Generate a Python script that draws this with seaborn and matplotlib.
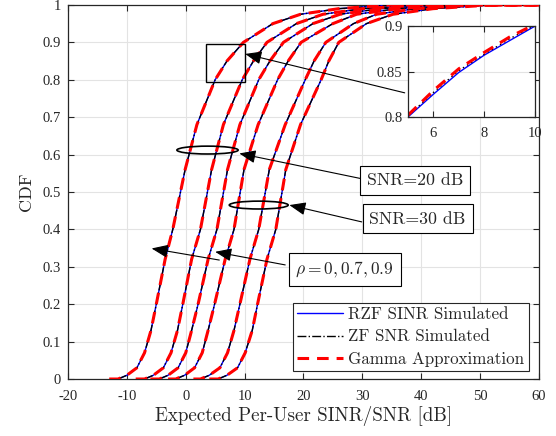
import numpy as np
import pandas as pd
import seaborn as sns
import matplotlib.pyplot as plt
from matplotlib.patches import Ellipse, Rectangle
from matplotlib.lines import Line2D

# CDF levels at which the curve positions were read (dB)
cdf_levels = [0, 0.01, 0.03, 0.07, 0.13, 0.2, 0.32, 0.4, 0.56, 0.68,
              0.8, 0.85, 0.9, 0.95, 0.975, 0.99, 1.0, 1.0]

curve_1 = [-11.5, -10.0, -8.3, -7.0, -5.9, -5.0, -3.5, -2.2, -0.1, 1.9, 5.0, 7.0, 9.8, 14.8, 19.5, 26, 35, 60]
curve_2 = [-7.0, -5.5, -3.8, -2.5, -1.4, -0.5, 1.0, 2.5, 4.4, 6.4, 9.6, 11.5, 13.8, 18.8, 23.3, 30, 40, 60]
curve_3 = [-4.5, -3.0, -1.3, 0.0, 1.0, 2.1, 3.8, 5.3, 7.1, 9.2, 12.4, 14.3, 16.6, 21.6, 26.2, 33, 43, 60]
curve_4 = [-1.7, -0.2, 1.5, 2.8, 3.8, 4.9, 6.7, 8.2, 9.9, 12.3, 15.6, 17.4, 19.6, 25.0, 29.0, 36, 46, 60]
curve_5 = [2.5, 4.0, 5.8, 7.1, 8.2, 9.2, 10.9, 12.4, 14.2, 16.9, 20.3, 21.8, 23.8, 28.5, 32.4, 39, 49, 60]
curve_6 = [5.5, 7.0, 8.8, 10.1, 11.3, 12.2, 13.8, 15.3, 17.0, 19.5, 23.0, 24.3, 26.0, 30.7, 35.2, 42, 52, 60]
curves = [curve_1, curve_2, curve_3, curve_4, curve_5, curve_6]

# where the Gamma approximation leaves zero
gamma_start = [-13.0, -8.5, -6.0, -3.0, 1.3, 4.0]

# zoomed inset readings
inset_x = [5, 6, 7, 8, 9, 10]
inset_rzf = [0.800, 0.825, 0.849, 0.868, 0.884, 0.900]
inset_zf = [0.801, 0.827, 0.851, 0.869, 0.886, 0.901]
inset_gamma = [0.802, 0.829, 0.853, 0.871, 0.888, 0.902]

sns.set_style("ticks")
plt.rcParams.update({
    'font.family': 'serif',
    'font.serif': ['cmr10', 'DejaVu Serif'],
    'mathtext.fontset': 'cm',
    'axes.unicode_minus': False,
    'axes.formatter.use_mathtext': True,
})

EDGE = '#262626'
GRID = '#e3e3e3'
TICKFONT = {'family': 'Liberation Serif', 'size': 10.5}
RED_DASH = (0, (3.8, 2.6))

rows = []
for i, xs in enumerate(curves):
    for x, c in zip(xs, cdf_levels):
        rows.append({'curve': i, 'x': x, 'cdf': c})
df = pd.DataFrame(rows)

fig = plt.figure(figsize=(5.56, 4.36), dpi=100)
ax = fig.add_axes([0.1223, 0.1307, 0.847, 0.858])

for i in range(len(curves)):
    d = df[df['curve'] == i]
    sns.lineplot(x=d['x'], y=d['cdf'], ax=ax, color='blue', lw=1.0,
                 sort=False, estimator=None, zorder=3)
for i in range(len(curves)):
    d = df[df['curve'] == i]
    sns.lineplot(x=d['x'], y=d['cdf'], ax=ax, color='black', lw=1.0,
                 linestyle='-.', sort=False, estimator=None, zorder=4)
for i in range(len(curves)):
    d = df[df['curve'] == i]
    gx = [gamma_start[i]] + list(d['x'])
    gy = [0.0] + list(d['cdf'])
    sns.lineplot(x=gx, y=gy, ax=ax, color='red', lw=2.2,
                 linestyle=RED_DASH, sort=False, estimator=None, zorder=5)

ax.set_xlim(-20, 60)
ax.set_ylim(0, 1)
ax.set_xticks(np.arange(-20, 61, 10))
ax.set_yticks(np.arange(0, 1.01, 0.1))
ax.set_xticklabels([f'{v:g}' for v in np.arange(-20, 61, 10)], fontdict=TICKFONT)
ax.set_yticklabels([f'{v:g}' for v in np.round(np.arange(0, 1.01, 0.1), 1)], fontdict=TICKFONT)
ax.grid(True, color=GRID, lw=0.8, zorder=0)
ax.tick_params(direction='in', length=4, width=0.8, top=True, right=True,
               colors=EDGE, labelcolor=EDGE)
ax.tick_params(axis='x', pad=8)
ax.tick_params(axis='y', pad=5)
for s in ax.spines.values():
    s.set_color(EDGE)
    s.set_linewidth(0.9)
ax.set_xlabel('Expected Per-User SINR/SNR [dB]', fontsize=13.7, color=EDGE, labelpad=2)
ax.set_ylabel('CDF', fontsize=13, color=EDGE, labelpad=6)

# zoom box and annotations
ax.add_patch(Rectangle((3.5, 0.795), 6.5, 0.101, fill=False, ec='k', lw=1.0, zorder=6))
ax.add_patch(Ellipse((3.7, 0.612), 10.4, 0.021, fill=False, ec='k', lw=1.2, zorder=6))
ax.add_patch(Ellipse((12.4, 0.465), 10.0, 0.021, fill=False, ec='k', lw=1.2, zorder=6))

arrow = dict(arrowstyle='-|>,head_length=1.0,head_width=0.4', color='k', lw=0.8,
             shrinkA=0, shrinkB=0)
ax.annotate('', xy=(10.1, 0.869), xytext=(37.2, 0.765), arrowprops=arrow, zorder=7)
ax.annotate('', xy=(9.1, 0.603), xytext=(29.7, 0.536), arrowprops=arrow, zorder=7)
ax.annotate('', xy=(17.6, 0.465), xytext=(29.9, 0.420), arrowprops=arrow, zorder=7)
ax.annotate('', xy=(5.0, 0.340), xytext=(16.9, 0.305), arrowprops=arrow, zorder=7)
ax.annotate('', xy=(-5.8, 0.349), xytext=(5.7, 0.318), arrowprops=arrow, zorder=7)

box = dict(boxstyle='square,pad=0.38', fc='white', ec='k', lw=0.8)
ax.text(38.9, 0.531, 'SNR=20 dB', fontsize=12.8, ha='center', va='center', bbox=box, zorder=8)
ax.text(39.4, 0.428, 'SNR=30 dB', fontsize=12.8, ha='center', va='center', bbox=box, zorder=8)
ax.text(27.0, 0.292, r'$\rho = 0, 0.7, 0.9$', fontsize=12.5, ha='center', va='center',
        bbox=box, zorder=8)

handles = [Line2D([], [], color='blue', lw=1.0),
           Line2D([], [], color='black', lw=1.0, linestyle='-.'),
           Line2D([], [], color='red', lw=2.2, linestyle=RED_DASH)]
leg = ax.legend(handles, ['RZF SINR Simulated', 'ZF SNR Simulated', 'Gamma Approximation'],
                loc='lower right', bbox_to_anchor=(0.978, 0.022), fontsize=12.2,
                frameon=True, fancybox=False, edgecolor=EDGE, framealpha=1,
                handlelength=2.7, handletextpad=0.3, borderpad=0.25, labelspacing=0.4,
                borderaxespad=0)
leg.get_frame().set_linewidth(0.8)
leg.set_zorder(9)

# inset
axin = fig.add_axes([0.734, 0.732, 0.228, 0.208])
sns.lineplot(x=inset_x, y=inset_rzf, ax=axin, color='blue', lw=1.0, sort=False, estimator=None)
sns.lineplot(x=inset_x, y=inset_zf, ax=axin, color='black', lw=1.0, linestyle=(0, (1, 2.5)),
             sort=False, estimator=None)
sns.lineplot(x=inset_x, y=inset_gamma, ax=axin, color='red', lw=2.2,
             linestyle=RED_DASH, sort=False, estimator=None)
axin.set_xlim(5, 10)
axin.set_ylim(0.8, 0.9)
axin.set_xticks([6, 8, 10])
axin.set_yticks([0.8, 0.85, 0.9])
axin.set_xticklabels(['6', '8', '10'], fontdict=TICKFONT)
axin.set_yticklabels(['0.8', '0.85', '0.9'], fontdict=TICKFONT)
axin.grid(True, color=GRID, lw=0.8)
axin.tick_params(direction='in', length=4, width=0.8, top=True, right=True,
                 colors=EDGE, labelcolor=EDGE)
axin.tick_params(axis='x', pad=7)
axin.tick_params(axis='y', pad=4)
axin.set_xlabel('')
axin.set_ylabel('')
for s in axin.spines.values():
    s.set_color(EDGE)
    s.set_linewidth(0.9)

fig.savefig('out.png', dpi=100)
